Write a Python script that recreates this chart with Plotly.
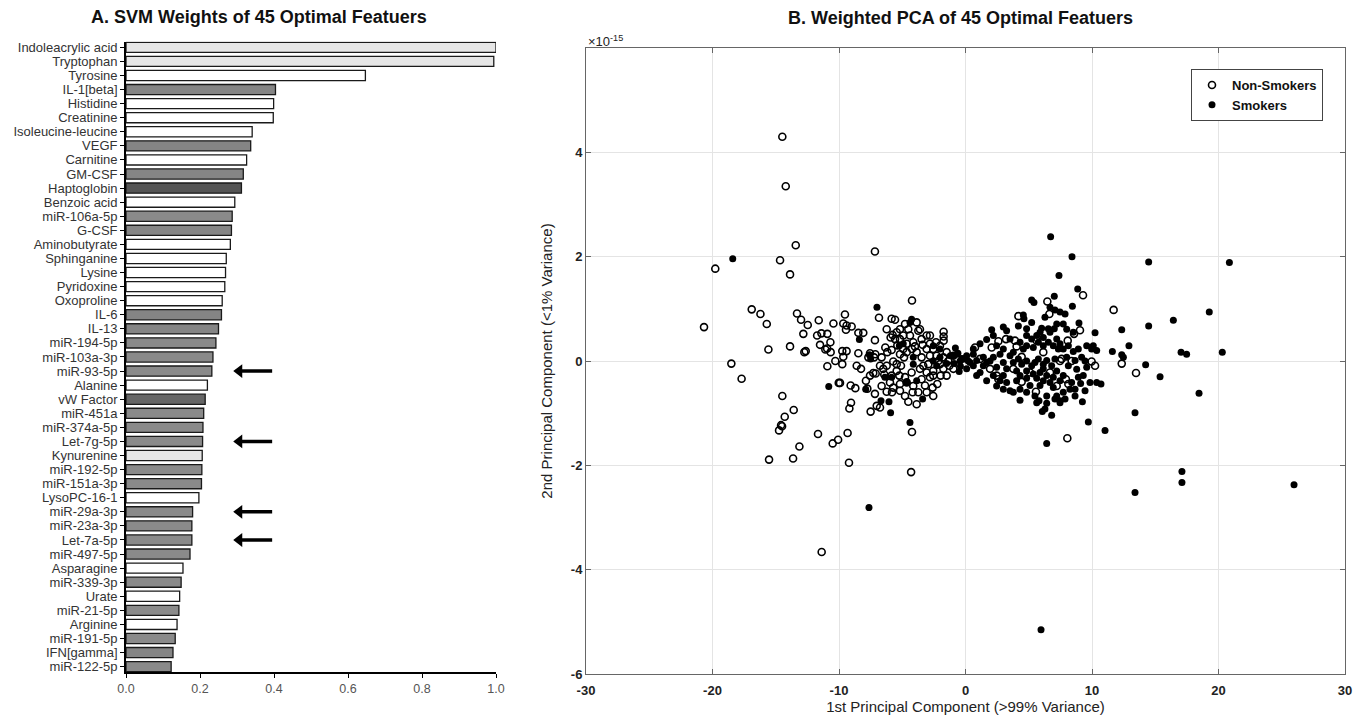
import plotly.graph_objects as go

# ---------------- Panel A data ----------------
features = ["Indoleacrylic acid", "Tryptophan", "Tyrosine", "IL-1[beta]", "Histidine", "Creatinine",
            "Isoleucine-leucine", "VEGF", "Carnitine", "GM-CSF", "Haptoglobin", "Benzoic acid",
            "miR-106a-5p", "G-CSF", "Aminobutyrate", "Sphinganine", "Lysine", "Pyridoxine",
            "Oxoproline", "IL-6", "IL-13", "miR-194-5p", "miR-103a-3p", "miR-93-5p", "Alanine",
            "vW Factor", "miR-451a", "miR-374a-5p", "Let-7g-5p", "Kynurenine", "miR-192-5p",
            "miR-151a-3p", "LysoPC-16-1", "miR-29a-3p", "miR-23a-3p", "Let-7a-5p", "miR-497-5p",
            "Asparagine", "miR-339-3p", "Urate", "miR-21-5p", "Arginine", "miR-191-5p",
            "IFN[gamma]", "miR-122-5p"]
weights = [1.000, 0.994, 0.647, 0.404, 0.399, 0.398, 0.341, 0.337, 0.326, 0.317, 0.312, 0.294,
           0.287, 0.285, 0.282, 0.271, 0.269, 0.267, 0.260, 0.258, 0.250, 0.243, 0.235, 0.232,
           0.220, 0.214, 0.210, 0.208, 0.207, 0.206, 0.205, 0.204, 0.197, 0.180, 0.178, 0.178,
           0.173, 0.154, 0.149, 0.145, 0.143, 0.138, 0.133, 0.127, 0.122]
# feature group -> fill
groups = ["trp", "trp", "met", "cyt", "met", "met", "met", "cyt", "met", "cyt", "dark", "met",
          "mir", "cyt", "met", "met", "met", "met", "met", "cyt", "cyt", "mir", "mir", "mir", "met",
          "dark2", "mir", "mir", "mir", "trp", "mir", "mir", "met", "mir", "mir", "mir", "mir",
          "met", "mir", "met", "mir", "met", "mir", "cyt", "mir"]
group_colors = {"trp": "#e6e6e6", "met": "#ffffff", "cyt": "#858585", "mir": "#8a8a8a",
                "dark": "#555555", "dark2": "#666666"}
arrow_rows = ["miR-93-5p", "Let-7g-5p", "miR-29a-3p", "Let-7a-5p"]
arrow_span = [0.296, 0.395]
x_ticks_a = [0.0, 0.2, 0.4, 0.6, 0.8, 1.0]

# ---------------- Panel B data (PC1, PC2 x1e-15) ----------------
nonsmokers = [
    (-20.67, 0.65), (-19.78, 1.77), (-18.51, -0.05), (-17.70, -0.34), (-14.48, 4.30), (-14.21, 3.35),
    (-13.42, 2.22), (-14.66, 1.93), (-13.87, 1.66), (-11.37, -3.66), (-16.90, 0.99), (-16.21, 0.90),
    (-15.71, 0.71), (-15.58, 0.22), (-14.48, -0.67), (-14.29, -1.07), (-14.58, -1.23), (-14.50, -1.25),
    (-14.74, -1.33), (-13.58, -0.94), (-15.53, -1.89), (-13.63, -1.87), (-13.13, -1.64), (-11.66, -1.40),
    (-10.50, -1.58), (-10.07, -1.51), (-13.32, 0.91), (-13.00, 0.79), (-12.47, 0.69), (-11.60, 0.78),
    (-10.44, 0.72), (-12.82, 0.52), (-11.73, 0.49), (-11.39, 0.53), (-10.92, 0.52), (-13.87, 0.28),
    (-12.74, 0.17), (-12.63, 0.19), (-11.50, 0.31), (-11.08, 0.22), (-10.68, 0.36), (-10.66, 0.17),
    (-10.94, 0.24), (-10.29, 0.00), (-10.92, -0.10), (-10.02, -0.42), (-7.16, 2.10), (-4.23, 1.16),
    (-9.53, 0.89), (-9.66, 0.72), (-9.40, 0.68), (-9.00, 0.66), (-9.45, 0.60), (-8.47, 0.54),
    (-8.08, 0.54), (-9.74, 0.19), (-9.40, 0.19), (-9.66, 0.08), (-9.74, -0.06), (-8.60, -0.09),
    (-8.26, -0.15), (-8.47, 0.15), (-9.92, -0.42), (-9.08, -0.47), (-8.71, -0.52), (-9.05, -0.80),
    (-9.18, -0.91), (-9.32, -1.38), (-9.21, -1.95), (-7.16, 0.40), (-6.84, 0.83), (-5.84, 0.81),
    (-5.57, 0.79), (-6.34, 0.26), (-6.18, 0.17), (-5.84, 0.21), (-7.13, 0.13), (-7.23, 0.07),
    (-7.55, -0.28), (-7.29, -0.23), (-7.10, -0.24), (-7.87, -0.38), (-7.76, -0.53), (-7.16, -0.63),
    (-6.50, -0.15), (-6.42, -0.26), (-6.63, -0.48), (-6.23, -0.59), (-7.02, -0.86), (-6.76, -0.89),
    (-7.50, -0.97), (-5.81, -0.60), (-5.71, -0.51), (-5.44, 0.55), (-5.92, 0.45), (-5.57, 0.42),
    (-5.18, 0.42), (-4.92, 0.49), (-4.52, 0.61), (-4.39, 0.49), (-4.65, 0.33), (-3.86, 0.74),
    (-3.73, 0.58), (-4.13, 0.36), (-4.00, 0.28), (-5.18, 0.13), (-4.86, 0.07), (-5.44, -0.06),
    (-5.10, -0.09), (-5.23, -0.28), (-4.78, -0.31), (-5.18, -0.44), (-4.65, -0.41), (-4.78, -0.67),
    (-4.52, -0.78), (-4.18, -0.60), (-3.86, -0.83), (-4.23, -1.36), (-3.60, 0.61), (-3.07, 0.49),
    (-3.39, 0.31), (-3.07, 0.23), (-2.81, 0.33), (-2.55, 0.23), (-3.47, 0.07), (-2.81, 0.10),
    (-3.34, -0.09), (-2.94, -0.06), (-3.07, -0.22), (-2.55, -0.19), (-3.47, -0.35), (-2.81, -0.31),
    (-3.20, -0.47), (-2.60, -0.51), (-2.23, -0.44), (-2.33, 0.36), (-2.02, 0.29), (-1.73, 0.56),
    (-1.73, 0.47), (-1.73, 0.39), (-1.49, 0.17), (-1.75, 0.07), (-2.15, 0.00), (-1.28, -0.09),
    (-0.96, -0.15), (-1.49, -0.28), (-1.97, -0.28), (-2.02, -0.06), (-0.96, 0.10), (-4.65, 0.17),
    (-4.23, 0.23), (-5.71, -0.01), (-6.23, -0.09), (-5.84, -0.28), (-7.55, 0.15), (-7.68, 0.07),
    (-4.30, -2.13), (6.47, 1.14), (9.29, 1.26), (11.71, 0.98), (4.18, 0.86), (6.63, 0.90),
    (2.60, 0.38), (3.20, 0.42), (3.91, 0.39), (4.04, 0.28), (8.08, 0.39), (8.58, 0.52),
    (9.05, 0.59), (4.44, 0.08), (7.47, 0.00), (8.39, 0.00), (9.97, -0.01), (10.24, -0.09),
    (12.35, -0.05), (13.48, -0.23), (2.60, -0.35), (4.44, -0.40), (5.57, -0.59), (7.94, -0.35),
    (8.13, -0.44), (8.05, -1.48), (2.07, 0.26), (0.75, 0.26), (6.15, 0.17), (7.60, 0.04),
    (5.63, 0.39), (1.94, -0.15), (2.46, -0.28), (3.78, -0.15), (5.10, -0.22), (6.68, -0.22),
    (7.21, -0.48), (1.15, 0.04),
    (-6.23, 0.61), (-5.76, 0.50), (-5.18, 0.61), (-4.78, 0.71), (-5.39, 0.30), (-4.92, 0.23),
    (-3.86, 0.17), (-3.47, 0.42), (-2.81, 0.49), (-2.28, 0.10), (-1.75, -0.15), (-1.36, 0.00),
    (-2.55, -0.28), (-3.60, -0.15), (-4.26, -0.22), (-5.44, -0.19), (-5.97, -0.41), (-5.18, -0.57),
    (-4.13, -0.48), (-3.07, -0.60), (-3.73, -0.60), (-2.55, -0.67), (-6.76, -0.09), (-6.63, 0.07),
]
smokers = [
    (-18.40, 1.96), (-10.81, -0.49), (-7.00, 1.03), (-7.63, -2.81), (5.97, -5.15), (25.97, -2.37),
    (17.11, -2.12), (17.11, -2.33), (13.40, -2.52), (-8.39, 0.41), (-7.60, 0.12), (-7.50, 0.04),
    (-7.89, -0.54), (-6.68, -0.76), (-6.05, -0.78), (-5.92, -0.99), (-4.39, -1.18), (-6.37, -0.31),
    (-5.84, -0.31), (-5.23, 0.29), (-4.92, 0.33), (-4.39, 0.74), (-4.26, 0.80), (-4.65, -0.41),
    (-3.86, -0.38), (-3.39, -0.73), (-4.13, 0.07), (-4.13, -0.06), (-2.55, 0.29), (-2.02, 0.23),
    (-2.55, 0.00), (-2.28, -0.09), (-2.02, 0.07), (-0.96, 0.10), (-0.70, 0.13), (-0.17, 0.04),
    (0.22, 0.00), (-1.20, 0.10), (-0.90, -0.05), (-0.60, 0.15), (-0.40, -0.10), (-0.30, 0.05),
    (-1.50, -0.05), (-0.80, 0.25), (-0.50, -0.20), (6.73, 2.38), (8.42, 2.00), (14.48, 1.90),
    (20.86, 1.89), (7.39, 1.64), (8.87, 1.38), (5.23, 1.17), (5.41, 1.12), (7.02, 1.24),
    (6.68, 1.03), (7.07, 0.98), (7.47, 0.94), (7.87, 0.90), (8.45, 1.05), (4.57, 0.88),
    (4.62, 0.81), (6.28, 0.84), (4.18, 0.67), (6.02, 0.63), (6.55, 0.62), (7.02, 0.62),
    (7.73, 0.71), (8.97, 0.73), (2.07, 0.60), (2.99, 0.65), (3.25, 0.58), (12.35, 0.60),
    (14.48, 0.67), (16.43, 0.78), (19.27, 0.94), (10.24, 0.54), (1.67, 0.41), (2.46, 0.29),
    (4.83, 0.49), (5.23, 0.42), (5.63, 0.49), (6.15, 0.45), (7.21, 0.42), (7.47, 0.33),
    (9.58, 0.29), (10.10, 0.29), (10.37, 0.20), (11.61, 0.18), (12.35, 0.12), (12.48, 0.07),
    (12.92, 0.29), (17.04, 0.17), (17.48, 0.13), (20.30, 0.17), (14.24, -0.07), (15.38, -0.30),
    (18.46, -0.62), (13.40, -0.99), (11.03, -1.33), (9.71, -1.17), (6.42, -1.58), (6.81, -1.04),
    (6.07, -0.97), (4.31, -0.75), (5.81, -0.76), (6.42, -0.81), (7.07, -0.73), (7.47, -0.76),
    (7.87, -0.73), (8.66, -0.67), (9.24, -0.78), (9.45, -0.57), (9.10, -0.43), (9.84, -0.41),
    (10.37, -0.41), (10.71, -0.44), (9.31, -0.28), (9.58, -0.12), (3.52, -0.57), (4.31, -0.54),
    (5.10, -0.47), (5.89, -0.47), (6.68, -0.41), (7.47, -0.38), (8.26, -0.54), (1.15, -0.22),
    (2.20, -0.28), (2.99, -0.28), (0.09, 0.10), (0.62, 0.13), (1.41, 0.07), (1.94, 0.00),
    (2.73, 0.13), (3.52, 0.10), (4.18, 0.04), (4.83, 0.00), (5.49, -0.03), (6.15, -0.06),
    (6.81, -0.09), (-0.43, 0.00), (-0.17, 0.04), (0.62, -0.09), (1.41, -0.09), (2.46, -0.12),
    (3.25, -0.15), (4.04, -0.19), (4.83, -0.19), (5.89, -0.22), (6.42, -0.28), (7.21, -0.19),
    (2.99, 0.23), (3.78, 0.17), (4.57, 0.23), (5.36, 0.26), (6.15, 0.29), (6.94, 0.29),
    (7.73, 0.23), (8.52, 0.18), (4.31, 0.36), (6.55, 0.36), (3.25, -0.41), (4.04, -0.38),
    (4.83, -0.33), (5.63, -0.33), (6.15, -0.38), (6.94, -0.51), (7.73, -0.60), (9.18, 0.07),
    (9.45, 0.00), (9.97, 0.23), (8.79, -0.16), (8.92, -0.31), (8.13, -0.09),
    (0.36, -0.03), (0.88, 0.01), (1.67, -0.03), (2.20, 0.07), (2.99, -0.03), (3.78, -0.03),
    (4.44, -0.06), (5.23, -0.09), (5.76, 0.04), (6.42, 0.01), (7.07, 0.04), (8.00, 0.07),
    (8.66, 0.01), (2.46, -0.48), (2.99, -0.54), (3.78, -0.60), (4.83, -0.60), (5.49, -0.67),
    (6.42, -0.67), (7.21, -0.67), (4.83, 0.62), (5.23, 0.74), (5.89, 0.55), (6.68, 0.55),
    (7.21, 0.71), (8.00, 0.61), (8.52, 0.55), (4.83, 0.29), (5.76, 0.36), (7.34, 0.23),
    (8.13, 0.29), (8.92, 0.23), (3.52, 0.42), (2.20, 0.49), (1.15, 0.33), (0.62, 0.23),
    (0.09, -0.15), (0.88, -0.28), (1.67, -0.38), (2.73, -0.38), (4.31, -0.28), (5.36, -0.25),
    (6.15, -0.15), (6.94, -0.31), (7.73, -0.28), (8.39, -0.41), (8.66, -0.54), (7.47, -0.80),
    (6.28, -0.92), (5.63, -0.80),
]
x_ticks_b = [-30, -20, -10, 0, 10, 20, 30]
y_ticks_b = [-6, -4, -2, 0, 2, 4]

FONT = "Liberation Sans, Arial, sans-serif"

# page has an 8px body margin; lay the figure out in window pixels
W, H, OFF = 1355, 713, 8


def fx(px):
    return (px - OFF) / W


def fy(py):
    return 1 - (py - OFF) / H


fig = go.Figure()

# ---------------- Panel A ----------------
idx = list(range(len(features)))
fig.add_trace(go.Bar(
    x=weights, y=idx, orientation="h", width=0.72,
    marker=dict(color=[group_colors[g] for g in groups], line=dict(color="#1a1a1a", width=1.3)),
    xaxis="x", yaxis="y", showlegend=False, hovertext=features, hoverinfo="x+text",
))
for name in arrow_rows:
    r = features.index(name)
    fig.add_trace(go.Scatter(
        x=[arrow_span[0] + 0.012, arrow_span[1]], y=[r, r], mode="lines",
        line=dict(color="#000", width=3.4), xaxis="x", yaxis="y", showlegend=False, hoverinfo="skip"))
    fig.add_trace(go.Scatter(
        x=[arrow_span[0] + 0.01], y=[r], mode="markers",
        marker=dict(symbol="triangle-left", size=12, color="#000"),
        xaxis="x", yaxis="y", showlegend=False, hoverinfo="skip"))

# ---------------- Panel B ----------------
fig.add_trace(go.Scatter(
    x=[p[0] for p in nonsmokers], y=[p[1] for p in nonsmokers], mode="markers", name="Non-Smokers",
    marker=dict(symbol="circle-open", size=7, color="#000", line=dict(width=1.6)),
    xaxis="x2", yaxis="y2",
))
fig.add_trace(go.Scatter(
    x=[p[0] for p in smokers], y=[p[1] for p in smokers], mode="markers", name="Smokers",
    marker=dict(symbol="circle", size=7, color="#000"),
    xaxis="x2", yaxis="y2",
))

fig.update_layout(
    width=W, height=H, margin=dict(l=0, r=0, t=0, b=0, autoexpand=False),
    paper_bgcolor="white", plot_bgcolor="white",
    font=dict(family=FONT, color="#222"),
    xaxis=dict(domain=[fx(126), fx(496)], range=[0, 1.0], tickvals=x_ticks_a,
               ticktext=[f"{v:.1f}" for v in x_ticks_a], showgrid=False, zeroline=False,
               showline=True, linecolor="#000", linewidth=1.8, ticks="outside", ticklen=4,
               tickcolor="#000", anchor="y", automargin=False, tickfont=dict(size=12.5, color="#555")),
    yaxis=dict(domain=[fy(672), fy(41.7)], range=[44.38, -0.4], tickvals=idx, ticktext=features,
               showgrid=False, zeroline=False, showline=True, linecolor="#000", linewidth=1.8,
               ticks="outside", ticklen=4, tickcolor="#000", anchor="x", automargin=False,
               tickfont=dict(size=13, color="#333")),
    xaxis2=dict(domain=[fx(586), fx(1345)], range=[-30, 30], tickvals=x_ticks_b,
                ticktext=[str(v) for v in x_ticks_b], showgrid=True,
                gridcolor="#e4e4e4", zeroline=False, showline=True, mirror="ticks", linecolor="#666",
                linewidth=1, ticks="inside", ticklen=5, tickcolor="#666", anchor="y2",
                automargin=False, ticklabelstandoff=4, tickfont=dict(size=13, color="#222", weight="bold"),
                title=dict(text="1st Principal Component (>99% Variance)", standoff=3,
                           font=dict(size=15, color="#222"))),
    yaxis2=dict(domain=[fy(674), fy(48)], range=[-6, 6], tickvals=y_ticks_b,
                ticktext=[str(v) for v in y_ticks_b], showgrid=True,
                gridcolor="#e4e4e4", zeroline=False, showline=True, mirror="ticks", linecolor="#666",
                linewidth=1, ticks="inside", ticklen=5, tickcolor="#666", anchor="x2",
                automargin=False, tickfont=dict(size=13, color="#222", weight="bold"),
                title=dict(text="2nd Principal Component (<1% Variance)", standoff=14,
                           font=dict(size=15, color="#222"))),
    legend=dict(x=fx(1323), y=fy(69), xanchor="right", yanchor="top", bgcolor="white",
                bordercolor="#444", borderwidth=1, font=dict(size=13, color="#111", weight="bold"),
                itemwidth=30, tracegroupgap=0),
    showlegend=True,
)

fig.add_annotation(text="A. SVM Weights of 45 Optimal Featuers", x=fx(259), y=fy(17),
                   xref="paper", yref="paper", showarrow=False, xanchor="center", yanchor="middle",
                   font=dict(size=18, color="#111", weight="bold"))
fig.add_annotation(text="B. Weighted PCA of 45 Optimal Featuers", x=fx(960), y=fy(18),
                   xref="paper", yref="paper", showarrow=False, xanchor="center", yanchor="middle",
                   font=dict(size=18, color="#111", weight="bold"))
fig.add_annotation(text="\u00d710<sup>-15</sup>", x=fx(586), y=fy(41),
                   xref="paper", yref="paper", showarrow=False, xanchor="left", yanchor="middle",
                   font=dict(size=13, color="#222"))

fig.write_html("out.html")
